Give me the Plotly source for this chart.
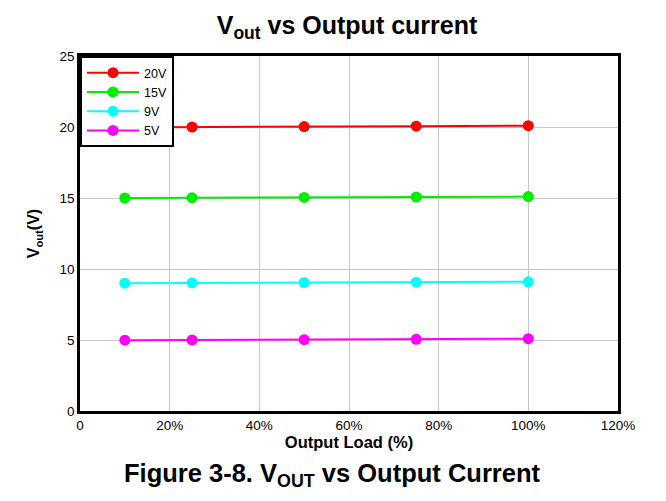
import plotly.graph_objects as go

load_pct = [10, 25, 50, 75, 100]
series_names = ["20V", "15V", "9V", "5V"]
v20 = [19.97, 20.0, 20.03, 20.06, 20.09]
v15 = [15.0, 15.02, 15.04, 15.07, 15.1]
v9 = [9.0, 9.02, 9.05, 9.07, 9.1]
v5 = [4.99, 5.0, 5.02, 5.05, 5.09]
colors = ["#ff0000", "#00ee00", "#00ffff", "#ff00ff"]
x_tickvals = [0, 20, 40, 60, 80, 100, 120]
x_ticktext = ["0", "20%", "40%", "60%", "80%", "100%", "120%"]
y_tickvals = [0, 5, 10, 15, 20, 25]

# page body has an 8px margin, so the figure is sized to fit inside the window
W, H = 650, 485
ml, mr, mt, mb = 72, 40, 48, 82
pw, ph = W - ml - mr, H - mt - mb

fig = go.Figure()
for name, vals, c in zip(series_names, [v20, v15, v9, v5], colors):
    fig.add_trace(go.Scatter(x=load_pct, y=vals, name=name, mode="lines+markers",
                             line=dict(color=c, width=2),
                             marker=dict(color=c, size=11)))

fig.update_layout(
    width=W, height=H,
    margin=dict(l=ml, r=mr, t=mt, b=mb),
    paper_bgcolor="white", plot_bgcolor="white",
    font=dict(family="Liberation Sans, Arial, sans-serif", size=13, color="black"),
    title=dict(text="<b>V<sub>out</sub> vs Output current</b>", x=(ml + pw / 2 - 2) / W, xanchor="center",
               y=1 - 17 / H, yanchor="middle", font=dict(size=25)),
    showlegend=True,
    legend=dict(x=0, y=1, xanchor="left", yanchor="top", bgcolor="white",
                bordercolor="black", borderwidth=2, font=dict(size=12.5),
                tracegroupgap=0, itemwidth=52),
)
fig.update_xaxes(range=[0, 120], tickvals=x_tickvals, ticktext=x_ticktext,
                 showgrid=True, gridcolor="#c8c8c8", gridwidth=1,
                 showline=True, linecolor="black", linewidth=2.5, mirror=True,
                 zeroline=False, ticks="", tickfont=dict(size=13.5),
                 title=dict(text="<b>Output Load (%)</b>", font=dict(size=16.5), standoff=2))
fig.update_yaxes(range=[0, 25], tickvals=y_tickvals,
                 showgrid=True, gridcolor="#c8c8c8", gridwidth=1,
                 showline=True, linecolor="black", linewidth=2.5, mirror=True,
                 zeroline=False, ticks="", tickfont=dict(size=13.5),
                 title=dict(text="<b>V<sub>out</sub>(V)</b>", font=dict(size=16), standoff=16))

fig.add_annotation(text="<b>Figure 3-8. V<sub>OUT</sub> vs Output Current</b>",
                   xref="paper", yref="paper", x=(324 - ml) / pw,
                   y=-(467 - (H - mb)) / ph,
                   xanchor="center", yanchor="middle", showarrow=False,
                   font=dict(size=25.5, color="black"))

fig.write_html("out.html")
